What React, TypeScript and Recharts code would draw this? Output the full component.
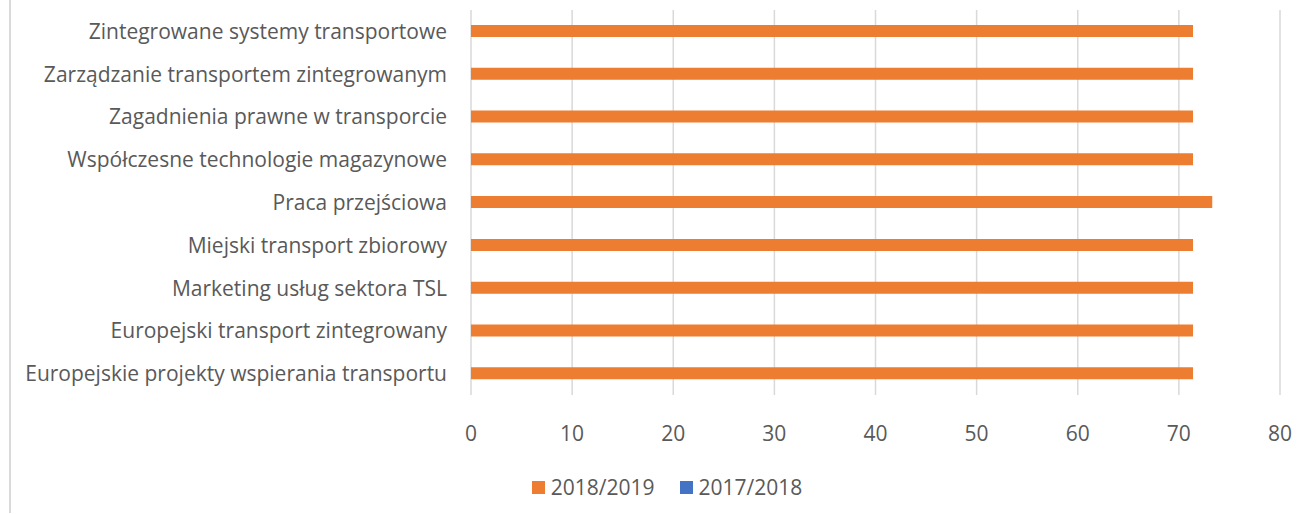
import { BarChart, Bar, XAxis, YAxis, CartesianGrid, Legend } from 'recharts';

const CATEGORIES = [
  'Zintegrowane systemy transportowe',
  'Zarządzanie transportem zintegrowanym',
  'Zagadnienia prawne w transporcie',
  'Współczesne technologie magazynowe',
  'Praca przejściowa',
  'Miejski transport zbiorowy',
  'Marketing usług sektora TSL',
  'Europejski transport zintegrowany',
  'Europejskie projekty wspierania transportu',
];
const SERIES_2018_2019 = [71.4, 71.4, 71.4, 71.4, 73.3, 71.4, 71.4, 71.4, 71.4];
const SERIES_2017_2018 = [0, 0, 0, 0, 0, 0, 0, 0, 0];
const X_TICKS = [0, 10, 20, 30, 40, 50, 60, 70, 80];

const ORANGE = '#ED7D31';
const BLUE = '#4472C4';
const FONT = '"Open Sans", sans-serif';

const data = CATEGORIES.map((name, i) => ({
  name,
  a: SERIES_2018_2019[i],
  b: SERIES_2017_2018[i],
}));

const LegendContent = () => {
  const items = [
    { label: '2018/2019', color: ORANGE },
    { label: '2017/2018', color: BLUE },
  ];
  return (
    <div style={{ display: 'flex', justifyContent: 'center', gap: 25, fontFamily: FONT, fontSize: 21, color: '#595959', paddingLeft: 44 }}>
      {items.map((it) => (
        <div key={it.label} style={{ display: 'flex', alignItems: 'center', gap: 6 }}>
          <div style={{ width: 13, height: 13, backgroundColor: it.color }} />
          <span>{it.label}</span>
        </div>
      ))}
    </div>
  );
};

export default function App() {
  return (
    <div style={{ position: 'absolute', left: 0, top: 0, width: 1309, height: 514, background: '#fff' }}>
      <div style={{ position: 'absolute', left: 9, top: 0, width: 2, height: 513, background: '#d9d9d9' }} />
      <BarChart
        width={1309}
        height={514}
        data={data}
        layout='vertical'
        margin={{ top: 10, right: 29, bottom: 16, left: 10 }}
        barGap={-12}
      >
        <CartesianGrid horizontal={false} stroke='#d9d9d9' strokeWidth={1.5} />
        <XAxis
          type='number'
          domain={[0, 80]}
          ticks={X_TICKS}
          axisLine={false}
          tickLine={false}
          tickMargin={25}
          height={75}
          tick={{ fill: '#595959', fontSize: 21, fontFamily: FONT }}
        />
        <YAxis
          type='category'
          dataKey='name'
          width={461}
          axisLine={false}
          tickLine={false}
          tickMargin={18}
          tick={{ fill: '#595959', fontSize: 21, fontFamily: FONT }}
        />
        <Legend verticalAlign='bottom' content={<LegendContent />} wrapperStyle={{ bottom: 13 }} />
        <Bar dataKey='a' name='2018/2019' fill={ORANGE} barSize={12} isAnimationActive={false} />
        <Bar dataKey='b' name='2017/2018' fill={BLUE} barSize={12} isAnimationActive={false} />
      </BarChart>
    </div>
  );
}
